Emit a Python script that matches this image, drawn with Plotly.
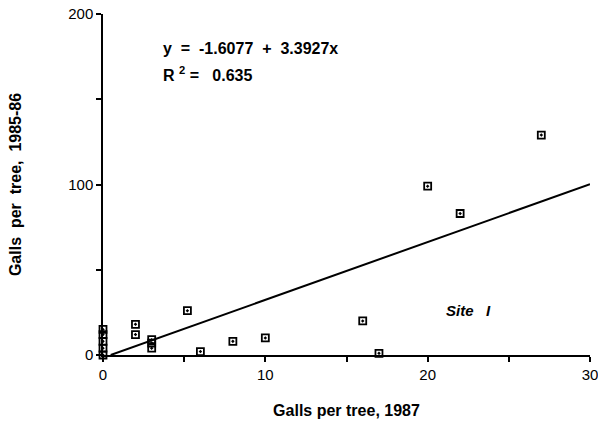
import plotly.graph_objects as go

# Data
galls_1987 = [0, 0, 0, 0, 0, 2, 2, 3, 3, 3, 5.2, 6, 8, 10, 16, 17, 20, 22, 27]
galls_1985_86 = [15, 12, 8, 4, 0, 18, 12, 9, 7, 4, 26, 2, 8, 10, 20, 1, 99, 83, 129]
intercept = -1.6077
slope = 3.3927
r2 = 0.635

x_line = [-intercept / slope, 30]
y_line = [intercept + slope * x for x in x_line]

fig = go.Figure()
fig.add_trace(go.Scatter(
    x=x_line, y=y_line, mode="lines",
    line=dict(color="black", width=2), showlegend=False, cliponaxis=False))
fig.add_trace(go.Scatter(
    x=galls_1987, y=galls_1985_86, mode="markers",
    marker=dict(symbol="square-open-dot", size=7, color="black",
                line=dict(color="black", width=1.8)),
    showlegend=False, cliponaxis=False))

font_bold = "Liberation Sans"
fig.add_annotation(x=0.12, y=0.90, xref="paper", yref="paper", xanchor="left", yanchor="middle",
                   text="<b>y  =  -1.6077  +  3.3927x</b>", showarrow=False,
                   font=dict(family=font_bold, size=16, color="black"))
fig.add_annotation(x=0.12, y=0.825, xref="paper", yref="paper", xanchor="left", yanchor="middle",
                   text="<b>R <sup>2</sup> =   0.635</b>", showarrow=False,
                   font=dict(family=font_bold, size=16, color="black"))
fig.add_annotation(x=0.70, y=0.13, xref="paper", yref="paper", xanchor="left", yanchor="middle",
                   text="<b><i>Site   I</i></b>", showarrow=False,
                   font=dict(family=font_bold, size=15, color="black"))

fig.update_layout(
    width=598, height=426,
    margin=dict(l=103, r=8, t=14, b=71),
    plot_bgcolor="white", paper_bgcolor="white",
    font=dict(family="Liberation Sans", size=15, color="black"),
    xaxis=dict(range=[0, 30], tickvals=[0, 5, 10, 15, 20, 25, 30],
               ticktext=["0", "", "10", "", "20", "", "30"],
               ticks="outside", ticklen=5, tickwidth=1.5, tickcolor="black",
               showline=True, linecolor="black", linewidth=1.5,
               showgrid=False, zeroline=False, automargin=False,
               ticklabeloverflow="allow",
               title=dict(text="<b>Galls per tree, 1987</b>", standoff=23,
                          font=dict(size=16))),
    yaxis=dict(range=[0, 200], tickvals=[0, 50, 100, 150, 200],
               ticktext=["0", "", "100", "", "200"],
               ticks="outside", ticklen=5, tickwidth=1.5, tickcolor="black",
               showline=True, linecolor="black", linewidth=1.5,
               showgrid=False, zeroline=False, automargin=False,
               ticklabeloverflow="allow",
               title=dict(text="<b>Galls  per  tree,  1985-86</b>", standoff=43,
                          font=dict(size=16))),
)

fig.write_html("out.html", config={"displayModeBar": False},
               post_script="document.body.style.margin='0';document.body.style.overflow='hidden';")
